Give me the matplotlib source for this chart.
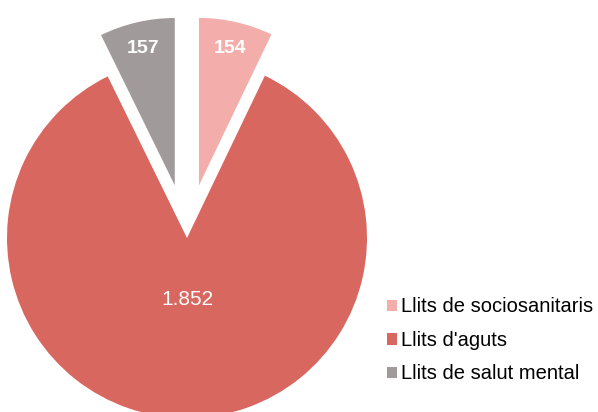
import math
import matplotlib.pyplot as plt

# Llits per tipus
categories = ["Llits de sociosanitaris", "Llits d'aguts", "Llits de salut mental"]
values = [154, 1852, 157]
colors = ['#F3AEAB', '#D8675F', '#A09A9B']
explode = [0.3, 0, 0.3]

font = ['Liberation Sans', 'DejaVu Sans']

fig = plt.figure(figsize=(5.98, 4.12), dpi=100)
ax = fig.add_axes([0, 0, 1, 1])

total = sum(values)
wedges, texts, autotexts = ax.pie(
    values, colors=colors, explode=explode, startangle=90, counterclock=False,
    autopct=lambda p: f"{round(p * total / 100):,}".replace(',', '.'),
    pctdistance=0.78, radius=1,
    textprops=dict(color='white', fontsize=14, family=font))

# exploded slices are a bit smaller in the original
for w, e in zip(wedges, explode):
    if e > 0:
        w.set_radius(0.93)

# big slice: label sits nearer the centre, not bold
w = wedges[1]
mid = math.radians((w.theta1 + w.theta2) / 2)
autotexts[1].set_position((0.34 * math.cos(mid), 0.34 * math.sin(mid)))
autotexts[1].set_fontsize(15)
autotexts[0].set_fontweight('bold')
autotexts[2].set_fontweight('bold')

ax.set_xlim(-187 / 180, 411 / 180)
ax.set_ylim(-174 / 180, 238 / 180)
ax.set_aspect('equal')
ax.axis('off')

leg = ax.legend(wedges, categories, loc='upper left', bbox_to_anchor=(0.617, 0.322),
                frameon=False, prop=dict(family=font, size=14.5),
                handlelength=0.5, handleheight=0.5, handletextpad=0.2,
                labelspacing=0.72)

plt.savefig('out.png', dpi=100)
